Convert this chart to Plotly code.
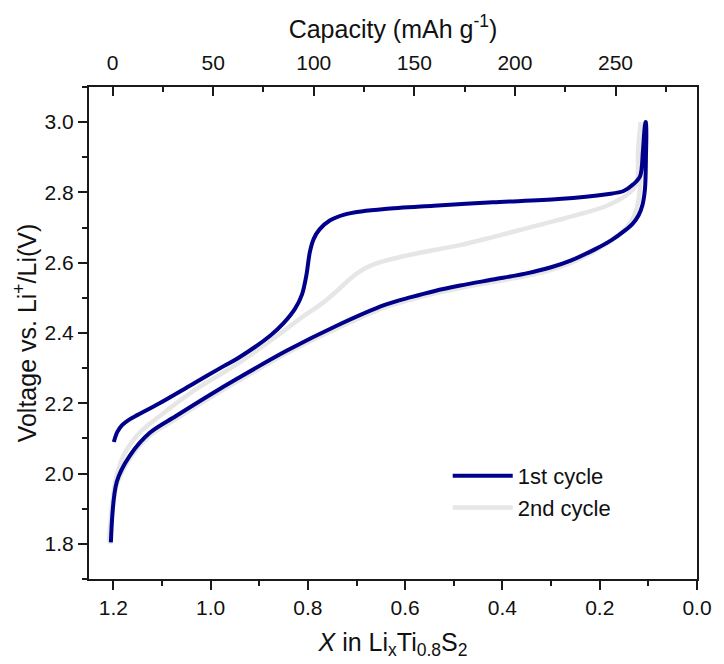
import plotly.graph_objects as go

# ---------------- data ----------------
# 1st cycle, charge branch (X decreasing, voltage rising)
c1_charge_x = [1.199, 1.192, 1.182, 1.168, 1.150, 1.105, 1.040, 0.974, 0.944, 0.877,
               0.850, 0.826, 0.812, 0.803, 0.796, 0.788, 0.776, 0.755, 0.725, 0.690,
               0.642, 0.541, 0.420, 0.285, 0.185, 0.151, 0.131, 0.117, 0.111, 0.106]
c1_charge_v = [2.090, 2.118, 2.138, 2.153, 2.167, 2.200, 2.252, 2.305, 2.328, 2.393,
               2.428, 2.470, 2.510, 2.565, 2.630, 2.668, 2.695, 2.720, 2.737, 2.746,
               2.753, 2.762, 2.772, 2.781, 2.795, 2.804, 2.823, 2.846, 2.921, 3.000]
# 1st cycle, discharge branch (from the 3.0 V top down to 1.8 V)
c1_dis_x = [0.105, 0.105, 0.107, 0.112, 0.120, 0.133, 0.150, 0.175, 0.210, 0.260,
            0.300, 0.353, 0.420, 0.487, 0.541, 0.588, 0.642, 0.742, 0.843, 0.944,
            1.000, 1.072, 1.125, 1.166, 1.193, 1.205]
c1_dis_v = [3.000, 2.900, 2.810, 2.765, 2.735, 2.710, 2.690, 2.665, 2.638, 2.606,
            2.587, 2.569, 2.552, 2.535, 2.519, 2.502, 2.480, 2.420, 2.350, 2.271,
            2.225, 2.163, 2.116, 2.051, 1.976, 1.804]

# 2nd cycle, charge branch
c2_charge_x = [1.209, 1.196, 1.179, 1.146, 1.105, 1.030, 0.944, 0.870, 0.809, 0.770,
               0.740, 0.710, 0.685, 0.662, 0.608, 0.541, 0.487, 0.420, 0.353, 0.252,
               0.185, 0.138, 0.124, 0.121, 0.116]
c2_charge_v = [1.807, 1.976, 2.051, 2.116, 2.163, 2.240, 2.313, 2.385, 2.448, 2.485,
               2.520, 2.558, 2.582, 2.597, 2.617, 2.636, 2.650, 2.673, 2.697, 2.734,
               2.762, 2.800, 2.828, 2.921, 3.000]
# 2nd cycle, discharge branch
c2_dis_x = [0.116, 0.116, 0.118, 0.124, 0.132, 0.145, 0.160, 0.185, 0.215, 0.262,
            0.300, 0.353, 0.420, 0.487, 0.541, 0.588, 0.642, 0.742, 0.843, 0.944,
            1.000, 1.072, 1.125, 1.166, 1.193, 1.207]
c2_dis_v = [3.000, 2.900, 2.800, 2.755, 2.725, 2.700, 2.680, 2.655, 2.630, 2.598,
            2.580, 2.562, 2.545, 2.528, 2.512, 2.495, 2.473, 2.412, 2.343, 2.263,
            2.217, 2.155, 2.108, 2.043, 1.968, 1.800]

series_names = ["1st cycle", "2nd cycle"]
series_colors = ["#00008B", "#E6E6E6"]

x_ticks = [1.2, 1.0, 0.8, 0.6, 0.4, 0.2, 0.0]
y_ticks = [1.8, 2.0, 2.2, 2.4, 2.6, 2.8, 3.0]
cap_ticks = [0, 50, 100, 150, 200, 250]

# ---------------- figure ----------------
FONT = "Liberation Sans, Arial, sans-serif"
AX = "#1a1a1a"
TXT = "#111"
TICK_SIZE = 21
TITLE_SIZE = 25

fig = go.Figure()

# 2nd cycle drawn first so that the 1st cycle lies on top
fig.add_trace(go.Scatter(
    x=c2_charge_x + c2_dis_x, y=c2_charge_v + c2_dis_v,
    mode="lines", name=series_names[1], legendrank=2,
    line=dict(color=series_colors[1], width=4.5, shape="spline", smoothing=0.9),
))
fig.add_trace(go.Scatter(
    x=c1_charge_x + c1_dis_x, y=c1_charge_v + c1_dis_v,
    mode="lines", name=series_names[0], legendrank=1,
    line=dict(color=series_colors[0], width=4, shape="spline", smoothing=0.9),
))
# invisible trace that activates the top capacity axis
fig.add_trace(go.Scatter(x=[cap_ticks[0]], y=[y_ticks[0]], xaxis="x2", mode="markers",
                         marker=dict(opacity=0), showlegend=False, hoverinfo="skip"))

fig.update_layout(
    width=724, height=664,
    margin=dict(l=89, r=16, t=87, b=80),
    paper_bgcolor="white", plot_bgcolor="white",
    font=dict(family=FONT, size=TICK_SIZE, color=TXT),
    showlegend=True,
    legend=dict(x=0.59, y=0.252, xanchor="left", yanchor="top",
                bgcolor="rgba(0,0,0,0)", font=dict(size=22, family=FONT, color=TXT),
                tracegroupgap=0, itemwidth=60),
    xaxis=dict(
        range=[1.25, 0.0], tickvals=x_ticks, tickformat=".1f",
        ticks="outside", ticklen=9, tickwidth=2, tickcolor=AX,
        minor=dict(dtick=0.1, ticks="outside", ticklen=5, tickwidth=2, tickcolor=AX),
        showline=True, linecolor=AX, linewidth=2, mirror=False,
        showgrid=False, zeroline=False,
        tickfont=dict(size=TICK_SIZE, family=FONT, color=TXT),
        title=dict(text="<i>X</i> in Li<sub>x</sub>Ti<sub>0.8</sub>S<sub>2</sub>",
                   font=dict(size=TITLE_SIZE, family=FONT, color=TXT), standoff=15),
    ),
    xaxis2=dict(
        overlaying="x", side="top", range=[-11.7, 290.5], tickvals=cap_ticks,
        ticks="inside", ticklen=9, tickwidth=2, tickcolor=AX,
        minor=dict(dtick=25, tick0=0, ticks="inside", ticklen=5, tickwidth=2, tickcolor=AX),
        showline=True, linecolor=AX, linewidth=2,
        showgrid=False, zeroline=False, ticklabelstandoff=7,
        tickfont=dict(size=TICK_SIZE, family=FONT, color=TXT),
        title=dict(text="Capacity (mAh g<sup>-1</sup>)",
                   font=dict(size=TITLE_SIZE, family=FONT, color=TXT), standoff=5),
    ),
    yaxis=dict(
        range=[1.7, 3.1], tickvals=y_ticks, tickformat=".1f",
        ticks="outside", ticklen=9, tickwidth=2, tickcolor=AX,
        minor=dict(dtick=0.1, ticks="outside", ticklen=5, tickwidth=2, tickcolor=AX),
        showline=True, linecolor=AX, linewidth=2, mirror=True,
        showgrid=False, zeroline=False,
        tickfont=dict(size=TICK_SIZE, family=FONT, color=TXT),
        title=dict(text="Voltage vs. Li<sup>+</sup>/Li(V)",
                   font=dict(size=TITLE_SIZE, family=FONT, color=TXT), standoff=1),
    ),
)

fig.write_html("out.html")
